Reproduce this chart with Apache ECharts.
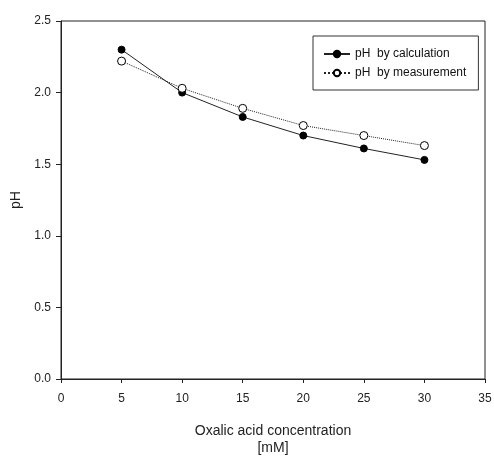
<!DOCTYPE html>
<html>
<head>
<meta charset="utf-8">
<script src="https://cdn.jsdelivr.net/npm/echarts@6/dist/echarts.min.js"></script>
<style>
html, body { margin: 0; padding: 0; background: #fff; }
#grafico_ph { width: 494px; height: 456px; }
</style>
</head>
<body>
<div id="grafico_ph"></div>
<script>
const concentraciones = [5, 10, 15, 20, 25, 30]
const phCalculado = [2.30, 2.00, 1.83, 1.70, 1.61, 1.53]
const phMedido = [2.22, 2.03, 1.89, 1.77, 1.70, 1.63]

const fuente = '"Liberation Sans Narrow", "Liberation Sans", Arial, sans-serif'

const chart = echarts.init(document.getElementById('grafico_ph'))

let option = {
  animation: false,
  textStyle: { fontFamily: fuente },
  grid: {
    left: 61,
    top: 21,
    right: 9,
    bottom: 77,
    outerBoundsMode: 'none',
    containLabel: false,
    show: true,
    borderColor: '#222',
    borderWidth: 1
  },
  legend: {
    orient: 'vertical',
    left: 313,
    top: 36,
    width: 163,
    padding: [12, 12, 11, 10],
    itemGap: 7,
    itemWidth: 26,
    itemHeight: 8,
    borderColor: '#333',
    borderWidth: 1,
    textStyle: { fontFamily: fuente, fontSize: 12, color: '#111' },
    data: ['pH  by calculation', 'pH  by measurement']
  },
  xAxis: {
    type: 'value',
    min: 0,
    max: 35,
    interval: 5,
    name: 'Oxalic acid concentration\n[mM]',
    nameLocation: 'middle',
    nameGap: 44,
    nameTextStyle: { fontFamily: fuente, fontSize: 14, color: '#222', lineHeight: 17 },
    splitLine: { show: false },
    axisLine: { lineStyle: { color: '#222' } },
    axisTick: { length: 4, lineStyle: { color: '#222' } },
    axisLabel: { fontFamily: fuente, fontSize: 12, color: '#222', margin: 14 }
  },
  yAxis: {
    type: 'value',
    min: 0,
    max: 2.5,
    interval: 0.5,
    name: 'pH',
    nameLocation: 'middle',
    nameGap: 32,
    nameTextStyle: { fontFamily: fuente, fontSize: 14, color: '#222' },
    splitLine: { show: false },
    axisLine: { show: true, lineStyle: { color: '#222' } },
    axisTick: { show: true, length: 5, lineStyle: { color: '#222' } },
    axisLabel: {
      fontFamily: fuente,
      fontSize: 12,
      color: '#222',
      margin: 10,
      formatter: v => v.toFixed(1)
    }
  },
  series: [
    {
      name: 'pH  by calculation',
      type: 'line',
      symbol: 'circle',
      symbolSize: 7,
      data: concentraciones.map((x, i) => [x, phCalculado[i]]),
      lineStyle: { color: '#222', width: 1, type: 'solid' },
      itemStyle: { color: '#000', borderColor: '#000', borderWidth: 1 }
    },
    {
      name: 'pH  by measurement',
      type: 'line',
      symbol: 'circle',
      symbolSize: 8,
      data: concentraciones.map((x, i) => [x, phMedido[i]]),
      lineStyle: { color: '#222', width: 1, type: 'dotted' },
      itemStyle: { color: '#fff', borderColor: '#000', borderWidth: 1 }
    }
  ]
}

chart.setOption(option)
</script>
</body>
</html>
